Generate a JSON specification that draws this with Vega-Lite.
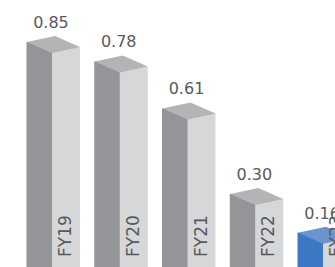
{
  "$schema": "https://vega.github.io/schema/vega-lite/v6.json",
  "width": 335,
  "height": 288,
  "autosize": {"type": "none"},
  "padding": 0,
  "background": "#ffffff",
  "config": {"view": {"stroke": null}},
  "data": {"values": [
    {"fy": "FY19", "value": 0.85},
    {"fy": "FY20", "value": 0.78},
    {"fy": "FY21", "value": 0.61},
    {"fy": "FY22", "value": 0.30},
    {"fy": "FY23", "value": 0.16}
  ]},
  "encoding": {
    "x": {"field": "fy", "type": "nominal", "axis": null,
          "scale": {"range": [19.6, 358.4], "paddingInner": 0, "paddingOuter": 0}},
    "y": {"field": "value", "type": "quantitative", "axis": null,
          "scale": {"domain": [0, 1.042], "nice": false, "zero": true}}
  },
  "layer": [
    {
      "mark": {"type": "bar", "width": 26, "xOffset": -14, "yOffset": -11},
      "encoding": {
        "color": {"condition": {"test": "datum.fy === 'FY23'", "value": "#3b78c3"}, "value": "#939598"}
      }
    },
    {
      "mark": {"type": "bar", "width": 28, "xOffset": 12.5, "yOffset": -6, "color": "#d6d7d9"}
    },
    {
      "mark": {"type": "point", "shape": "M -1 -0.0943 L 0.0566 -0.3208 L 1 0.0943 L -0.0566 0.3208 Z",
               "size": 2809, "filled": true, "opacity": 1, "strokeWidth": 0, "yOffset": -8.5},
      "encoding": {
        "color": {"condition": {"test": "datum.fy === 'FY23'", "value": "#6b93d1"}, "value": "#b3b4b6"}
      }
    },
    {
      "mark": {"type": "text", "font": "DejaVu Sans", "fontSize": 16, "color": "#595a5c",
               "align": "center", "baseline": "alphabetic", "xOffset": -2.5, "yOffset": -25},
      "encoding": {"text": {"field": "value", "type": "quantitative", "format": ".2f"}}
    },
    {
      "mark": {"type": "text", "font": "DejaVu Sans", "fontSize": 17, "color": "#595a5c",
               "angle": 270, "align": "left", "baseline": "alphabetic", "xOffset": 17.5, "yOffset": -31},
      "encoding": {
        "y": {"datum": 0},
        "text": {"field": "fy", "type": "nominal"}
      }
    }
  ]
}
